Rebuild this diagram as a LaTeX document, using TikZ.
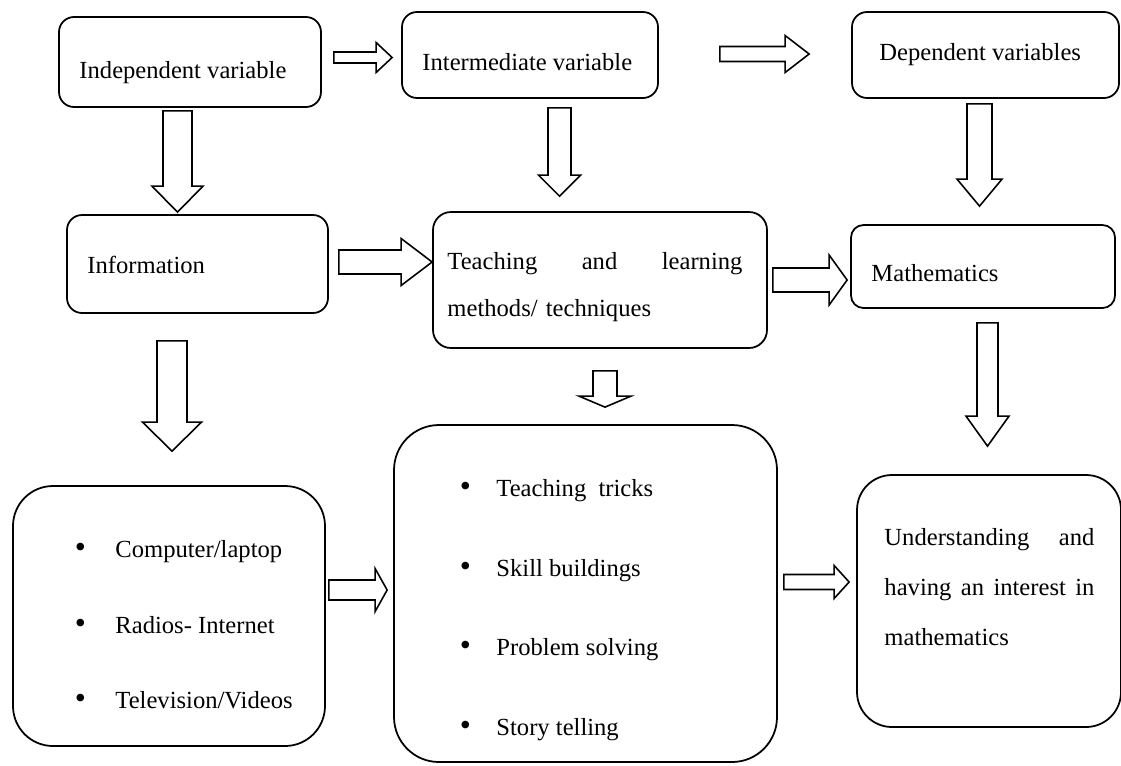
\documentclass[tikz,border=0pt]{standalone}
\usepackage{fontspec}
\setmainfont{Liberation Serif}
\usepackage{tikz}
\usetikzlibrary{calc}

\tikzset{
  varbox/.style={draw,line width=1pt,rounded corners=0.3cm,inner sep=0pt},
  bigbox/.style={varbox,rounded corners=0.8cm},
  txt/.style={inner sep=0pt,anchor=west,align=left,font=\fontsize{14}{17}\selectfont},
  blockarr/.style={draw,line width=0.9pt,line join=miter}
}

% hollow block arrow pointing right: tail, tip, shaft half, head half, head length
\newcommand{\rblock}[5]{%
  \coordinate (ta) at #1; \coordinate (tb) at #2;
  \coordinate (tc) at (tb |- ta);
  \draw[blockarr] ($(ta)+(0,-#3)$) -- ($(tc)+(-#5,-#3)$) -- ($(tc)+(-#5,-#4)$) -- (tc)
    -- ($(tc)+(-#5,#4)$) -- ($(tc)+(-#5,#3)$) -- ($(ta)+(0,#3)$) -- cycle;}
% hollow block arrow pointing down
\newcommand{\dblock}[5]{%
  \coordinate (ta) at #1; \coordinate (tb) at #2;
  \coordinate (tc) at (ta |- tb);
  \draw[blockarr] ($(ta)+(-#3,0)$) -- ($(tc)+(-#3,-#5)$) -- ($(tc)+(-#4,-#5)$) -- (tc)
    -- ($(tc)+(#4,-#5)$) -- ($(tc)+(#3,-#5)$) -- ($(ta)+(#3,0)$) -- cycle;}
% bullet of a list item
\newcommand{\itm}[1]{\makebox[#1][l]{\hspace{-1.5pt}{\fontsize{18}{18}\selectfont\textbullet}}}

\begin{document}
\begin{tikzpicture}[x=0.02cm,y=-0.02cm]
  \useasboundingbox (0,0) rectangle (1121,765);

  % boxes
  \node[varbox,minimum width=262*0.02cm,minimum height=90*0.02cm] (indep) at (190,62) {};
  \node[varbox,minimum width=256*0.02cm,minimum height=86*0.02cm] (inter) at (530,55) {};
  \node[varbox,minimum width=267*0.02cm,minimum height=86*0.02cm] (dep) at (985.5,55) {};
  \node[varbox,minimum width=261*0.02cm,minimum height=98*0.02cm] (info) at (197.5,264) {};
  \node[varbox,rounded corners=0.36cm,minimum width=334*0.02cm,minimum height=136*0.02cm] (teach) at (600,280) {};
  \node[varbox,rounded corners=0.25cm,minimum width=264*0.02cm,minimum height=83*0.02cm] (math) at (983,266.5) {};
  \node[bigbox,minimum width=312*0.02cm,minimum height=260*0.02cm] (media) at (169,616) {};
  \node[bigbox,rounded corners=0.9cm,minimum width=383*0.02cm,minimum height=337*0.02cm] (tricks) at (585.5,593.5) {};
  \node[bigbox,rounded corners=0.7cm,minimum width=264*0.02cm,minimum height=252*0.02cm] (under) at (989,601) {};

  % texts
  \node[txt] (indeptxt) at ($(indep.west)+(21,11)$) {Independent variable};
  \node[txt] (intertxt) at ($(inter.west)+(21,7)$) {Intermediate variable};
  \node[txt] (deptxt) at ($(dep.west)+(28,0)$) {Dependent variables};
  \node[txt] (infotxt) at ($(info.west)+(21,1)$) {Information};
  \node[txt,text width=5.9cm,font=\fontsize{14}{26.7}\selectfont] (teachtxt) at ($(teach.west)+(15,7.5)$)
    {Teaching\hfill and\hfill learning\\methods/ techniques};
  \node[txt] (mathtxt) at ($(math.west)+(21,6.5)$) {Mathematics};
  \node[txt,font=\fontsize{14}{43}\selectfont] (mediatxt) at ($(media.west)+(65,9)$)
    {\itm{0.76cm}Computer/laptop\\
     \itm{0.76cm}Radios- Internet\\
     \itm{0.76cm}Television/Videos};
  \node[txt,font=\fontsize{14}{45.4}\selectfont] (trickstxt) at ($(tricks.west)+(69,16.5)$)
    {\itm{0.68cm}Teaching~ tricks\\
     \itm{0.68cm}Skill buildings\\
     \itm{0.68cm}Problem solving\\
     \itm{0.68cm}Story telling};
  \node[txt,text width=4.2cm,font=\fontsize{14}{28.4}\selectfont] (undertxt) at ($(under.west)+(28,-14)$)
    {Understanding\hfill and\\having\hfill an\hfill interest\hfill in\\mathematics};

  % block arrows
  \rblock{($(indep.east)+(12,-4.5)$)}{($(inter.west)+(-9,0)$)}{5.5}{15}{16}
  \rblock{($(inter.east)+(61,-1)$)}{($(dep.west)+(-42,0)$)}{7.5}{18.5}{24}
  \dblock{($(indep.south)+(-12.5,3)$)}{($(info.north)+(0,-2)$)}{14.5}{25.5}{26}
  \dblock{($(inter.south)+(29.5,9)$)}{($(teach.north)+(0,-15)$)}{11.5}{21}{21}
  \dblock{($(dep.south)+(-6,5)$)}{($(math.north)+(0,-18)$)}{12.5}{22.5}{27}
  \rblock{($(info.east)+(10,-2)$)}{(teach.west)}{12}{23.5}{31}
  \rblock{($(teach.east)+(5,0)$)}{($(math.west)+(-3,0)$)}{12}{25}{18}
  \dblock{($(info.south)+(-25.5,27)$)}{($(media.north)+(0,-34)$)}{15}{29.5}{29}
  \dblock{($(teach.south)+(5,22)$)}{($(tricks.north)+(0,-17)$)}{12}{26}{11}
  \dblock{($(math.south)+(4.5,14)$)}{($(under.north)+(0,-28)$)}{10.5}{21.5}{30}
  \rblock{($(media.east)+(3,-26)$)}{($(tricks.west)+(-6,0)$)}{10}{21.5}{12}
  \rblock{($(tricks.east)+(6,-11.5)$)}{($(under.west)+(-7,0)$)}{7.5}{16.5}{15}
\end{tikzpicture}
\end{document}
